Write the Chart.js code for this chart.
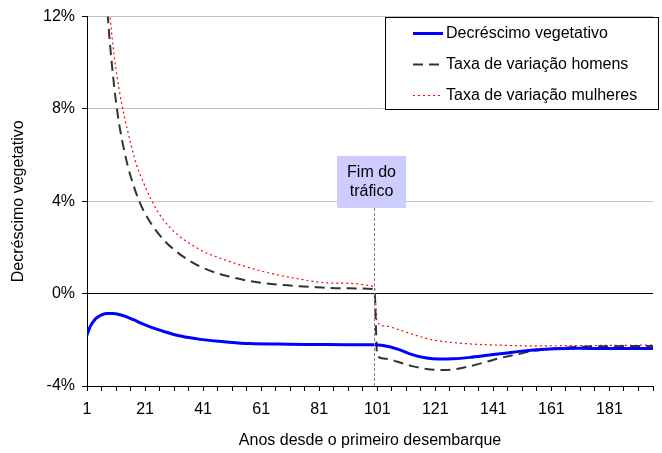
<!DOCTYPE html>
<html>
<head>
<meta charset="utf-8">
<script src="https://cdn.jsdelivr.net/npm/chart.js@4/dist/chart.umd.min.js"></script>
<style>
  body { margin: 0; background: #fff; }
  canvas { display: block; }
</style>
</head>
<body>
<canvas id="grafico" width="662" height="453"></canvas>
<script>
// valores (em %)
const anosVeg = [1, 2, 3, 4, 5, 6, 8, 10, 12, 14, 17, 21, 25, 28, 32, 36, 40, 50, 57, 70, 80, 90, 100,
  101, 103, 108, 113, 118, 122, 127, 133, 139, 145, 150, 156, 162, 170, 180, 196];
const decrescimo = [-1.8, -1.45, -1.24, -1.08, -0.99, -0.92, -0.86, -0.86, -0.9, -0.97, -1.13, -1.35, -1.54, -1.66, -1.8, -1.9, -1.98, -2.1, -2.16, -2.19, -2.2, -2.21, -2.21,
  -2.22, -2.25, -2.4, -2.64, -2.79, -2.83, -2.82, -2.76, -2.67, -2.58, -2.5, -2.43, -2.39, -2.37, -2.38, -2.38];

const anosHom = [6, 7, 8, 9, 10, 11, 12, 13, 14, 15, 17, 19, 22, 25, 28, 32, 36, 40, 45, 50, 56, 62, 70, 80, 90, 100,
  101, 104, 108, 113, 118, 124, 128, 132, 139, 143, 149, 154, 160, 166, 175, 196];
const taxaHomens = [17, 14.3, 12.3, 10.7, 9.4, 8.3, 7.4, 6.7, 6.1, 5.55, 4.7, 4.0, 3.25, 2.7, 2.25, 1.8, 1.45, 1.17, 0.92, 0.74, 0.57, 0.45, 0.36, 0.28, 0.23, 0.2,
  -2.7, -2.82, -2.95, -3.14, -3.26, -3.31, -3.27, -3.17, -2.94, -2.8, -2.63, -2.5, -2.4, -2.34, -2.28, -2.27];

const anosMul = [7, 8, 9, 10, 11, 12, 13, 15, 18, 20, 23, 27, 32, 40, 50, 62, 73, 85, 100,
  101, 104, 108, 115, 120, 131, 143, 154, 170, 196];
const taxaMulheres = [15.2, 13.4, 11.9, 10.7, 9.7, 8.9, 8.2, 7.05, 5.6, 4.95, 4.1, 3.25, 2.58, 1.9, 1.4, 0.95, 0.66, 0.46, 0.3,
  -1.23, -1.4, -1.55, -1.83, -2.0, -2.16, -2.23, -2.26, -2.25, -2.23];

const ticksY = [-4, 0, 4, 8, 12];
const fimTrafico = 100;
const textoFim = ["Fim do", "tráfico"];

const fonte = "'Liberation Sans', Arial, sans-serif";

function pontos(xs, ys) {
  return xs.map((x, i) => ({ x: x, y: ys[i] }));
}

const anotacoes = {
  id: "anotacoes",
  afterDatasetsDraw(chart) {
    const ctx = chart.ctx;
    const area = chart.chartArea;
    const xs = chart.scales.x;
    const px = Math.round(xs.getPixelForValue(fimTrafico)) + 0.5;

    // caixa "Fim do tráfico"
    const caixaTopo = 156, caixaAlt = 52, caixaLarg = 69;
    const caixaEsq = px - 3 - caixaLarg / 2;
    ctx.save();
    ctx.strokeStyle = "#808080";
    ctx.lineWidth = 1;
    ctx.setLineDash([3, 2]);
    ctx.beginPath();
    ctx.moveTo(px, caixaTopo + caixaAlt);
    ctx.lineTo(px, area.bottom);
    ctx.stroke();
    ctx.setLineDash([]);
    ctx.fillStyle = "#CCCCFF";
    ctx.fillRect(caixaEsq, caixaTopo, caixaLarg, caixaAlt);
    ctx.fillStyle = "#000";
    ctx.font = "16px " + fonte;
    ctx.textAlign = "center";
    ctx.textBaseline = "middle";
    ctx.fillText(textoFim[0], caixaEsq + caixaLarg / 2, 173);
    ctx.fillText(textoFim[1], caixaEsq + caixaLarg / 2, 192);

    // legenda
    ctx.fillStyle = "#fff";
    ctx.fillRect(385, 17, 273, 92);
    ctx.strokeStyle = "#000";
    ctx.strokeRect(385.5, 17.5, 273, 92);
    const linhasY = [33, 64, 95];
    chart.data.datasets.forEach((ds, i) => {
      const y = linhasY[i] + 0.5;
      ctx.strokeStyle = ds.borderColor;
      ctx.lineWidth = ds.borderWidth;
      ctx.setLineDash(ds.borderDash || []);
      ctx.beginPath();
      ctx.moveTo(413, y);
      ctx.lineTo(443, y);
      ctx.stroke();
      ctx.setLineDash([]);
      ctx.fillStyle = "#000";
      ctx.textAlign = "left";
      ctx.fillText(ds.label, 446, linhasY[i] + 1);
    });
    ctx.restore();
  }
};

new Chart(document.getElementById("grafico"), {
  type: "line",
  data: {
    datasets: [
      {
        label: "Decréscimo vegetativo",
        data: pontos(anosVeg, decrescimo),
        borderColor: "#0000FF",
        borderWidth: 3
      },
      {
        label: "Taxa de variação homens",
        data: pontos(anosHom, taxaHomens),
        borderColor: "#333333",
        borderWidth: 2,
        borderDash: [10, 6]
      },
      {
        label: "Taxa de variação mulheres",
        data: pontos(anosMul, taxaMulheres),
        borderColor: "#FF0000",
        borderWidth: 1.2,
        borderDash: [2, 3]
      }
    ]
  },
  options: {
    responsive: false,
    animation: false,
    layout: { padding: { top: 13, right: 2, left: 0, bottom: 0 } },
    elements: {
      point: { radius: 0 },
      line: { cubicInterpolationMode: "monotone", fill: false }
    },
    plugins: {
      legend: { display: false },
      tooltip: { enabled: false }
    },
    scales: {
      x: {
        type: "linear",
        min: 1,
        max: 196,
        afterFit(s) { s.height = 67; },
        ticks: {
          stepSize: 5,
          autoSkip: false,
          maxRotation: 0,
          padding: 9,
          color: "#000",
          font: { family: fonte, size: 16 },
          callback: (v) => ((v - 1) % 20 === 0 ? String(v) : "")
        },
        grid: {
          drawOnChartArea: false,
          tickLength: 5,
          color: "#000"
        },
        border: { color: "#000", width: 1 },
        title: {
          display: true,
          text: "Anos desde o primeiro desembarque",
          color: "#000",
          font: { family: fonte, size: 16 },
          padding: { top: 0, bottom: 3 }
        }
      },
      y: {
        min: -4,
        max: 12,
        afterFit(s) { s.width = 87; },
        afterBuildTicks(s) { s.ticks = ticksY.map((v) => ({ value: v })); },
        ticks: {
          padding: 7,
          color: "#000",
          font: { family: fonte, size: 16 },
          callback: (v) => v + "%"
        },
        grid: {
          tickLength: 5,
          tickColor: "#000",
          color: (c) => (c.tick && c.tick.value <= 0 ? "#000" : "#C0C0C0")
        },
        border: { color: "#000", width: 1 },
        title: {
          display: true,
          text: "Decréscimo vegetativo",
          color: "#000",
          font: { family: fonte, size: 16 },
          padding: { top: 9, bottom: 0 }
        }
      }
    }
  },
  plugins: [anotacoes]
});
</script>
</body>
</html>
